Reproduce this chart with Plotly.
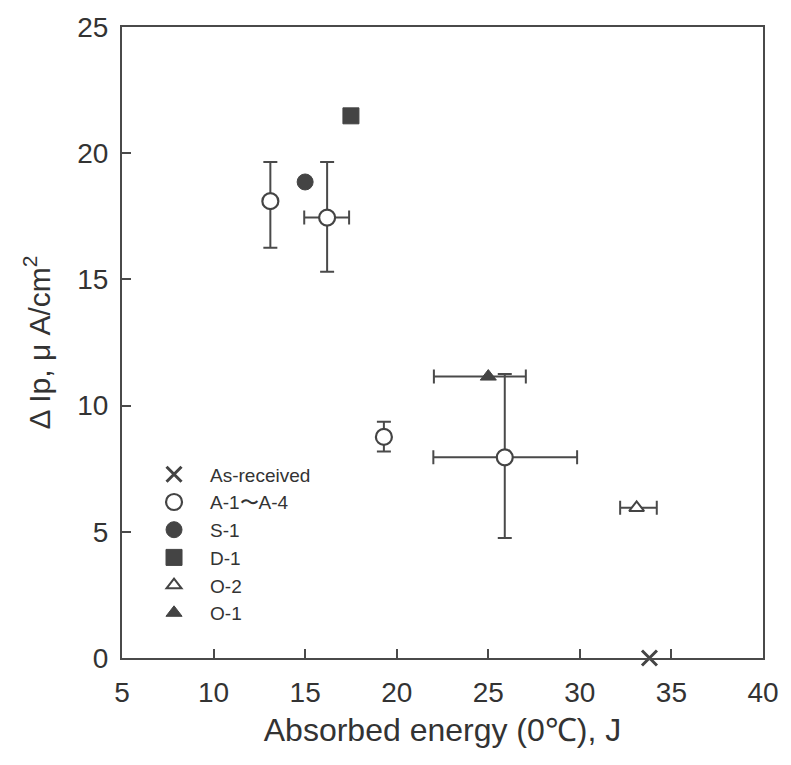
import plotly.graph_objects as go

# ---- data ----
as_x = [33.8]
as_y = [0.0]

a_x = [13.1, 16.2, 19.3, 25.9]
a_y = [18.1, 17.45, 8.76, 7.95]
a_yerr_plus = [1.55, 2.2, 0.6, 3.3]
a_yerr_minus = [1.85, 2.15, 0.58, 3.2]
a_xerr_plus = [None, 1.2, None, 3.95]
a_xerr_minus = [None, 1.25, None, 3.9]

s_x = [15.0]
s_y = [18.86]

d_x = [17.5]
d_y = [21.48]

o2_x = [33.1]
o2_y = [5.95]
o2_xerr_plus = [1.1]
o2_xerr_minus = [0.9]

o1_x = [25.0]
o1_y = [11.15]
o1_xerr_plus = [2.05]
o1_xerr_minus = [2.97]

x_ticks = [5, 10, 15, 20, 25, 30, 35, 40]
y_ticks = [0, 5, 10, 15, 20, 25]

DARK = "#444444"
LINE = "#4a4a4a"
FONT = "Liberation Sans, Arial, Helvetica, sans-serif"

fig = go.Figure()

err_style = dict(type="data", symmetric=False, color=LINE, thickness=2, width=7)

fig.add_trace(go.Scatter(
    x=as_x, y=as_y, mode="markers", name="As-received",
    marker=dict(symbol="x-thin-open", size=15, color=DARK, line=dict(color=DARK, width=3)),
    cliponaxis=False,
))
fig.add_trace(go.Scatter(
    x=a_x, y=a_y, mode="markers", name="A-1〜A-4",
    marker=dict(symbol="circle", size=16, color="white", line=dict(color=DARK, width=2.2)),
    error_y=dict(array=a_yerr_plus, arrayminus=a_yerr_minus, **err_style),
    error_x=dict(array=a_xerr_plus, arrayminus=a_xerr_minus, **err_style),
))
fig.add_trace(go.Scatter(
    x=s_x, y=s_y, mode="markers", name="S-1",
    marker=dict(symbol="circle", size=16, color=DARK, line=dict(color=DARK, width=1)),
))
fig.add_trace(go.Scatter(
    x=d_x, y=d_y, mode="markers", name="D-1",
    marker=dict(symbol="square", size=16, color=DARK, line=dict(color=DARK, width=1)),
))
fig.add_trace(go.Scatter(
    x=o2_x, y=o2_y, mode="markers", name="O-2",
    marker=dict(symbol="triangle-up", size=13, color="white", line=dict(color=DARK, width=2)),
    error_x=dict(array=o2_xerr_plus, arrayminus=o2_xerr_minus, **err_style),
))
fig.add_trace(go.Scatter(
    x=o1_x, y=o1_y, mode="markers", name="O-1",
    marker=dict(symbol="triangle-up", size=14, color=DARK, line=dict(color=DARK, width=1)),
    error_x=dict(array=o1_xerr_plus, arrayminus=o1_xerr_minus, **err_style),
))

axis_common = dict(
    showline=True, linecolor=LINE, linewidth=2, mirror=True,
    ticks="inside", ticklen=9, tickwidth=1.6, tickcolor=LINE,
    showgrid=False, zeroline=False,
    tickfont=dict(family=FONT, size=28, color="#333333"),
)

fig.update_layout(
    width=791, height=765,
    margin=dict(l=122, r=21, t=19, b=107),
    paper_bgcolor="white", plot_bgcolor="white",
    font=dict(family=FONT, color="#333333"),
    showlegend=True,
    legend=dict(
        x=0.025, y=0.321, xanchor="left", yanchor="top",
        bgcolor="rgba(0,0,0,0)", borderwidth=0,
        font=dict(family=FONT, size=19, color="#333333"),
        itemwidth=62, tracegroupgap=0,
    ),
    xaxis=dict(
        range=[5, 40], tickvals=x_ticks, ticktext=[str(v) for v in x_ticks],
        title=dict(text="Absorbed energy (0℃), J", font=dict(family=FONT, size=32, color="#333333"), standoff=12),
        ticklabelstandoff=8,
        **axis_common,
    ),
    yaxis=dict(
        range=[0, 25], tickvals=y_ticks, ticktext=[str(v) for v in y_ticks],
        title=dict(text="Δ Ip, μ A/cm<sup>2</sup>", font=dict(family=FONT, size=30, color="#333333"), standoff=18),
        ticklabelstandoff=6,
        **axis_common,
    ),
)

fig.write_html("out.html")
